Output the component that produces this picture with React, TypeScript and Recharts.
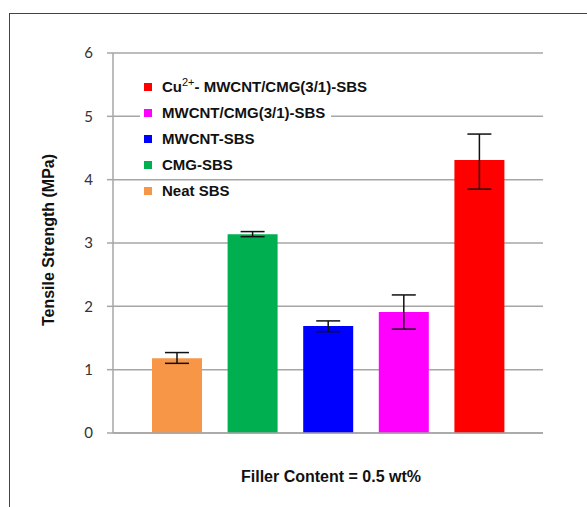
import { BarChart, Bar, XAxis, YAxis, CartesianGrid, Cell, ErrorBar, Label } from 'recharts';

const categories = ['Neat SBS', 'CMG-SBS', 'MWCNT-SBS', 'MWCNT/CMG(3/1)-SBS', 'Cu2+- MWCNT/CMG(3/1)-SBS'];
const strength = [1.18, 3.14, 1.69, 1.91, 4.31];
const errLow = [0.08, 0.04, 0.09, 0.27, 0.46];
const errHigh = [0.09, 0.04, 0.08, 0.27, 0.41];
const colors = ['#F79646', '#00B050', '#0000FF', '#FF00FF', '#FF0000'];
const yTicks = [0, 1, 2, 3, 4, 5, 6];

const data = categories.map((name, i) => ({
  name,
  value: strength[i],
  err: [errLow[i], errHigh[i]],
}));

const boldFont = '"Liberation Sans", Arial, sans-serif';

function LegendBox() {
  const rows = categories.map((name, i) => ({ name, color: colors[i] })).reverse();
  return (
    <div style={{ position: 'absolute', left: 140, top: 74, fontFamily: boldFont, fontWeight: 'bold', fontSize: 15, color: '#111' }}>
      {rows.map((r) => (
        <div key={r.name} style={{ height: 26, display: 'flex', alignItems: 'center' }}>
          <span style={{ display: 'inline-flex', alignItems: 'center', background: '#fff', padding: '0 6px 0 4px', lineHeight: '18px' }}>
            <span style={{ width: 8, height: 8, background: r.color, display: 'inline-block', marginRight: 10 }} />
            {r.name.startsWith('Cu2+') ? (
              <span>
                Cu<sup style={{ fontSize: 11, fontWeight: 'normal', lineHeight: 0 }}>2+</sup>- MWCNT/CMG(3/1)-SBS
              </span>
            ) : (
              <span>{r.name}</span>
            )}
          </span>
        </div>
      ))}
    </div>
  );
}

export default function App() {
  return (
    <div style={{ position: 'absolute', left: 0, top: 0, width: 587, height: 507, overflow: 'hidden', background: '#fff' }}>
      <div style={{ position: 'absolute', left: 9, top: 13, width: 600, height: 520, border: '1.5px solid #444', boxSizing: 'border-box' }} />
      <BarChart width={587} height={507} data={data} margin={{ top: 53, right: 44, bottom: 0, left: 0 }}>
        <CartesianGrid vertical={false} stroke="#a6a6a6" strokeWidth={1.5} />
        <XAxis
          dataKey="name"
          tick={false}
          tickLine={false}
          padding={{ left: 26, right: 26 }}
          axisLine={{ stroke: '#a6a6a6', strokeWidth: 1.5 }}
          height={74}
        >
          <Label
            content={() => (
              <text x={331} y={482} textAnchor="middle" fontFamily={boldFont} fontWeight="bold" fontSize={16} fill="#111">
                Filler Content = 0.5 wt%
              </text>
            )}
          />
        </XAxis>
        <YAxis
          width={113}
          domain={[0, 6]}
          ticks={yTicks}
          tickSize={6}
          tickMargin={14}
          tickLine={{ stroke: '#a6a6a6', strokeWidth: 1.5 }}
          axisLine={{ stroke: '#a6a6a6', strokeWidth: 1.5 }}
          tick={{ fill: '#333', fontSize: 15, fontFamily: 'Lato, "Open Sans", sans-serif' }}
        >
          <Label
            content={() => (
              <text transform="translate(54,240) rotate(-90)" textAnchor="middle" fontFamily={boldFont} fontWeight="bold" fontSize={16} fill="#111">
                Tensile Strength (MPa)
              </text>
            )}
          />
        </YAxis>
        <Bar dataKey="value" barSize={50} isAnimationActive={false}>
          {data.map((d, i) => (
            <Cell key={d.name} fill={colors[i]} />
          ))}
          <ErrorBar dataKey="err" width={12} stroke="#111" strokeWidth={1.5} />
        </Bar>
      </BarChart>
      <LegendBox />
    </div>
  );
}
